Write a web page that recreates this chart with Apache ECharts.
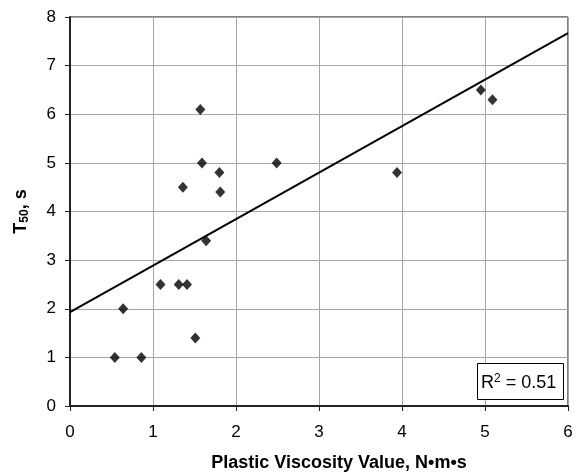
<!DOCTYPE html>
<html>
<head>
<meta charset="utf-8">
<script src="https://cdn.jsdelivr.net/npm/echarts@6/dist/echarts.min.js"></script>
<style>
  html, body { margin: 0; padding: 0; background: #fff; }
  #main { width: 579px; height: 475px; }
</style>
</head>
<body>
<div id="main"></div>
<script>
// plastic viscosity (N·m·s) vs T50 (s)
var viscosity = [0.54, 0.64, 0.86, 1.09, 1.31, 1.36, 1.41, 1.51, 1.57, 1.59, 1.64, 1.80, 1.81, 2.49, 3.94, 4.95, 5.09];
var t50 =       [1.0,  2.0,  1.0,  2.5,  2.5,  4.5,  2.5,  1.4,  6.1,  5.0,  3.4,  4.8,  4.4,  5.0,  4.8,  6.5,  6.3];
// linear trend line end points
var trendX = [0, 6];
var trendY = [1.93, 7.67];
var r2Text = '0.51';

var chart = echarts.init(document.getElementById('main'));

var points = [];
for (var i = 0; i < viscosity.length; i++) {
  points.push([viscosity[i], t50[i]]);
}
var trend = [];
for (var j = 0; j < trendX.length; j++) {
  trend.push([trendX[j], trendY[j]]);
}

var font = 'Liberation Sans, Arial, sans-serif';

chart.setOption({
  animation: false,
  textStyle: { fontFamily: font },
  grid: {
    left: 70, right: 11, top: 17, bottom: 69,
    outerBoundsMode: 'none',
    show: true, borderColor: '#000', borderWidth: 1
  },
  xAxis: {
    type: 'value', min: 0, max: 6, interval: 1,
    name: 'Plastic Viscosity Value, N•m•s',
    nameLocation: 'middle', nameGap: 48,
    nameTextStyle: { fontSize: 18, fontWeight: 'bold', color: '#000', padding: [0, 0, 0, 40] },
    axisLine: { show: true, lineStyle: { color: '#222', width: 2 } },
    axisTick: { show: true, length: 5, lineStyle: { color: '#222' } },
    axisLabel: { fontSize: 17, color: '#000', margin: 18 },
    splitLine: { show: true, lineStyle: { color: '#a6a6a6', width: 1 } }
  },
  yAxis: {
    type: 'value', min: 0, max: 8, interval: 1,
    name: '{a|T}{b|50}{a|, s}',
    nameLocation: 'middle', nameGap: 39, nameRotate: 90,
    nameTextStyle: {
      rich: {
        a: { fontSize: 18, fontWeight: 'bold', color: '#000' },
        b: { fontSize: 12, fontWeight: 'bold', color: '#000', verticalAlign: 'bottom', padding: [8, 0, 0, 0] }
      }
    },
    axisLine: { show: true, lineStyle: { color: '#222', width: 2 } },
    axisTick: { show: true, length: 5, lineStyle: { color: '#222' } },
    axisLabel: { fontSize: 17, color: '#000', margin: 14 },
    splitLine: { show: true, lineStyle: { color: '#a6a6a6', width: 1 } }
  },
  series: [
    {
      type: 'line',
      data: trend,
      symbol: 'none',
      lineStyle: { color: '#000', width: 2 },
      z: 2
    },
    {
      type: 'scatter',
      data: points,
      symbol: 'diamond',
      symbolSize: [10, 11],
      itemStyle: { color: '#000' },
      z: 3
    }
  ],
  graphic: [
    {
      type: 'rect',
      left: 477, top: 363,
      shape: { width: 86, height: 36 },
      style: { fill: '#fff', stroke: '#000', lineWidth: 1 },
      z: 10
    },
    {
      type: 'text',
      x: 481, y: 383,
      style: {
        text: '{a|R}{s|2}{a| = ' + r2Text + '}',
        verticalAlign: 'middle',
        rich: {
          a: { fontSize: 18, fill: '#000', fontFamily: font },
          s: { fontSize: 12, fill: '#000', verticalAlign: 'top', padding: [0, 0, 9, 0], fontFamily: font }
        }
      },
      z: 11
    }
  ]
});
</script>
</body>
</html>
